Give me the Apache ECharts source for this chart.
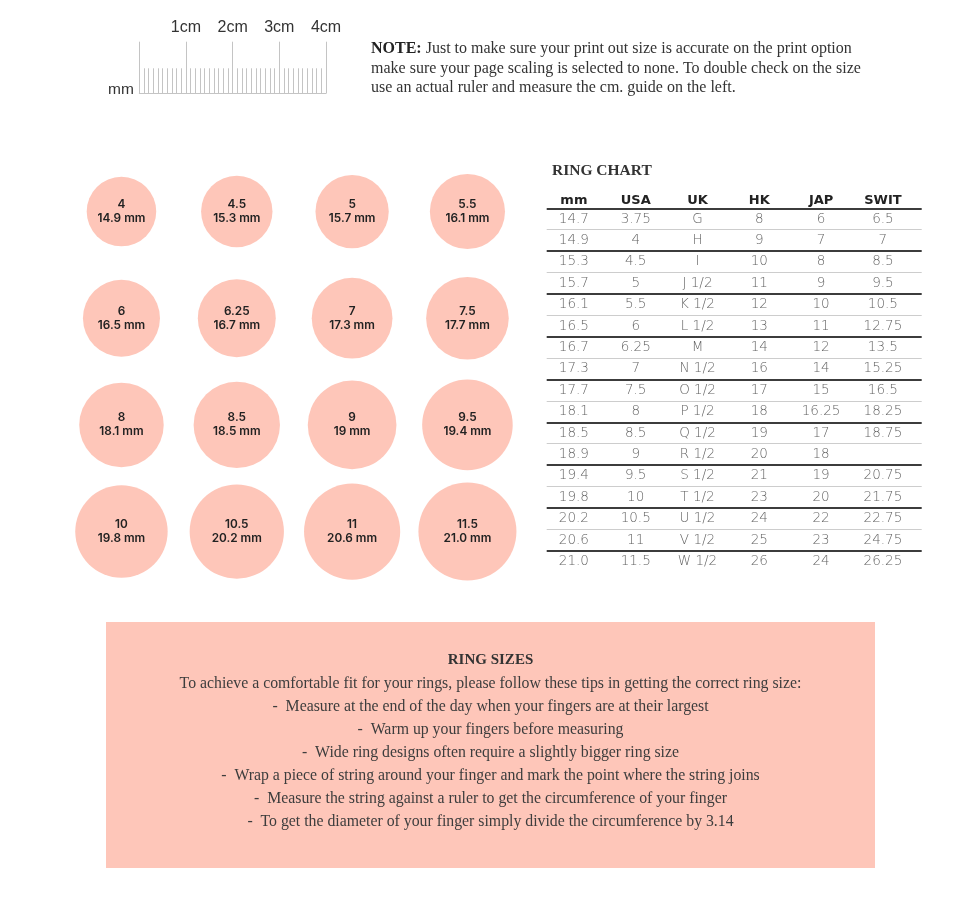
<!DOCTYPE html>
<html><head><meta charset="utf-8">
<script src="https://cdn.jsdelivr.net/npm/echarts/dist/echarts.min.js"></script>
<style>html,body{margin:0;padding:0;background:#fff}#c{width:980px;height:911px}</style>
</head><body><div id="c"></div>
<script>
// ---------- data ----------
const rulerMaxMM = 40;
const rulerLabels = ['', '1cm', '2cm', '3cm', '4cm'];
const rulerUnit = 'mm';

const noteLines = [
  '{b|NOTE:} Just to make sure your print out size is accurate on the print option',
  'make sure your page scaling is selected to none. To double check on the size',
  'use an actual ruler and measure the cm. guide on the left.'
];

const circleUS = ['4','4.5','5','5.5','6','6.25','7','7.5','8','8.5','9','9.5','10','10.5','11','11.5'];
const circleMM = ['14.9','15.3','15.7','16.1','16.5','16.7','17.3','17.7','18.1','18.5','19','19.4','19.8','20.2','20.6','21.0'];

const tableTitle = 'RING CHART';
const tableHeaders = ['mm','USA','UK','HK','JAP','SWIT'];
const colMM   = ['14.7','14.9','15.3','15.7','16.1','16.5','16.7','17.3','17.7','18.1','18.5','18.9','19.4','19.8','20.2','20.6','21.0'];
const colUSA  = ['3.75','4','4.5','5','5.5','6','6.25','7','7.5','8','8.5','9','9.5','10','10.5','11','11.5'];
const colUK   = ['G','H','I','J 1/2','K 1/2','L 1/2','M','N 1/2','O 1/2','P 1/2','Q 1/2','R 1/2','S 1/2','T 1/2','U 1/2','V 1/2','W 1/2'];
const colHK   = ['8','9','10','11','12','13','14','16','17','18','19','20','21','23','24','25','26'];
const colJAP  = ['6','7','8','9','10','11','12','14','15','16.25','17','18','19','20','22','23','24'];
const colSWIT = ['6.5','7','8.5','9.5','10.5','12.75','13.5','15.25','16.5','18.25','18.75','','20.75','21.75','22.75','24.75','26.25'];

const boxTitle = 'RING SIZES';
const boxLines = [
  'To achieve a comfortable fit for your rings, please follow these tips in getting the correct ring size:',
  '-  Measure at the end of the day when your fingers are at their largest',
  '-  Warm up your fingers before measuring',
  '-  Wide ring designs often require a slightly bigger ring size',
  '-  Wrap a piece of string around your finger and mark the point where the string joins',
  '-  Measure the string against a ruler to get the circumference of your finger',
  '-  To get the diameter of your finger simply divide the circumference by 3.14'
];

// ---------- layout / style ----------
const PINK = '#fec6b9';
const SERIF = 'Liberation Serif';
const SANS = 'Inter';
const TSANS = 'DejaVu Sans';
const RULER = {left: 139.3, top: 41.7, width: 186.7, height: 51.6};
const PX_PER_MM = RULER.width / rulerMaxMM;

const circleData = circleUS.map((us, i) => [i % 4, Math.floor(i / 4), parseFloat(circleMM[i]), us, circleMM[i]]);
const tableCols = [colMM, colUSA, colUK, colHK, colJAP, colSWIT];
const cells = [];
tableCols.forEach((col, c) => col.forEach((v, r) => { if (v !== '') cells.push([c, r, v]); }));

const graphics = [];
graphics.push({type:'text', left: 108, top: 82, silent:true,
  style:{text: rulerUnit, font: '15.5px "Liberation Sans"', fill:'#333'}});
noteLines.forEach((t, i) => graphics.push({type:'text', left: 371, top: 41 + i * 19.3, silent:true,
  style:{text: t, fontFamily: SERIF, fontSize: 16, fill:'#333',
    rich:{b:{fontFamily: SERIF, fontSize: 16, fontWeight:'bold', fill:'#222'}}}}));
graphics.push({type:'text', left: 552, top: 163, silent:true,
  style:{text: tableTitle, fontFamily: SERIF, fontSize: 15.5, fontWeight:'bold', fill:'#333'}});
graphics.push({type:'rect', shape:{x:106, y:622, width:769, height:246}, silent:true, z:-1,
  style:{fill: PINK}});
graphics.push({type:'text', x: 490.5, y: 660, silent:true,
  style:{text: boxTitle, fontFamily: SERIF, fontSize: 15, fontWeight:'bold', fill:'#333', align:'center', verticalAlign:'middle'}});
boxLines.forEach((t, i) => graphics.push({type:'text', x: 490.5, y: 684 + i * 23, silent:true,
  style:{text: t, fontFamily: SERIF, fontSize: 15.8, fill:'#3d3d3d', align:'center', verticalAlign:'middle'}}));

const chart = echarts.init(document.getElementById('c'), null, {renderer:'canvas'});
const option = {
  animation: false,
  backgroundColor: '#ffffff',
  grid: [
    {left: RULER.left, top: RULER.top, width: RULER.width, height: RULER.height, containLabel:false, outerBoundsMode:'none'},
    {left: 63.8, top: 158.2, width: 461.3, height: 426.7, containLabel:false, outerBoundsMode:'none'},
    // table rules
    {left: 546.7, top: 208.3, width: 375, height: 363.8, containLabel:false, outerBoundsMode:'none'},
    // table text
    {left: 543, top: 208.3, width: 370.8, height: 363.8, containLabel:false, outerBoundsMode:'none'}
  ],
  xAxis: [
    {gridIndex:0, type:'value', min:0, max:rulerMaxMM, interval:10, position:'bottom',
      axisLine:{show:true, lineStyle:{color:'#c4c4c4', width:1}},
      axisTick:{show:false, inside:true},
      minorTick:{show:true, splitNumber:10, length:25, lineStyle:{color:'#c4c4c4', width:1}},
      axisLabel:{show:false},
      splitLine:{show:true, lineStyle:{color:'#c4c4c4', width:1}}},
    {gridIndex:0, type:'value', min:0, max:rulerMaxMM, interval:10, position:'top',
      axisLine:{show:false}, axisTick:{show:false}, splitLine:{show:false},
      axisLabel:{show:true, margin:6, fontSize:16, color:'#333', fontFamily:'Liberation Sans',
        formatter: v => rulerLabels[Math.round(v / 10)] || ''}},
    {gridIndex:1, type:'category', data:['0','1','2','3'], show:false},
    {gridIndex:2, type:'category', data: tableHeaders, show:false},
    {gridIndex:3, type:'category', data: tableHeaders, position:'top',
      axisLine:{show:false}, axisTick:{show:false}, splitLine:{show:false},
      axisLabel:{show:true, interval:0, margin:1.5, fontSize:13, fontWeight:'bold', color:'#222', fontFamily: TSANS}}
  ],
  yAxis: [
    {gridIndex:0, type:'value', min:0, max:1, show:false},
    {gridIndex:1, type:'category', data:['0','1','2','3'], inverse:true, show:false},
    {gridIndex:2, type:'category', data: colMM, inverse:true, position:'left',
      axisLine:{show:false}, axisTick:{show:false}, axisLabel:{show:false, interval:0},
      splitLine:{show:true, interval:0, showMaxLine:false, lineStyle:{color:['#3c3c3c','rgba(0,0,0,0)'], width:2}}},
    {gridIndex:2, type:'category', data: colMM, inverse:true, position:'right',
      axisLine:{show:false}, axisTick:{show:false}, axisLabel:{show:false, interval:0},
      splitLine:{show:true, interval:0, showMaxLine:false, lineStyle:{color:['rgba(0,0,0,0)','#cdcdcd'], width:1}}},
    {gridIndex:3, type:'category', data: colMM, inverse:true, show:false}
  ],
  series: [
    {type:'scatter', xAxisIndex:2, yAxisIndex:1, data: circleData, silent:true,
      symbol:'circle', symbolSize: v => v[2] * PX_PER_MM,
      itemStyle:{color: PINK, opacity:1},
      emphasis:{disabled:true},
      label:{show:true, position:'inside', formatter: p => p.data[3] + '\n' + p.data[4] + ' mm',
        fontSize:11.8, fontWeight:600, color:'#222', fontFamily: SANS, lineHeight:14}},
    {type:'scatter', xAxisIndex:4, yAxisIndex:4, data: cells, silent:true,
      symbolSize:1, itemStyle:{color:'rgba(0,0,0,0)'},
      emphasis:{disabled:true},
      label:{show:true, position:'inside', formatter: p => p.data[2],
        fontSize:13.5, fontWeight:200, color:'#3a3a3a', fontFamily: TSANS}}
  ],
  graphic: graphics
};
chart.setOption(option);
</script>
</body></html>
